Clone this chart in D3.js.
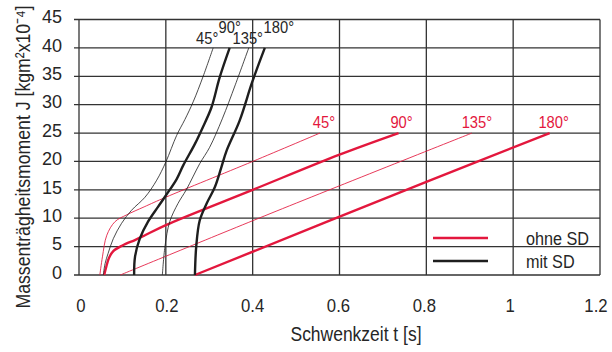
<!DOCTYPE html>
<html>
<head>
<meta charset="utf-8">
<script src="https://cdn.jsdelivr.net/npm/d3@7"></script>
<style>
  body { margin: 0; background: #fff; }
  svg text { font-family: 'Liberation Sans', Arial, sans-serif; fill: #262626; }
</style>
</head>
<body>
<svg id="chart" width="612" height="352"></svg>
<script>
// axis ticks
const xTicks = [0, 0.2, 0.4, 0.6, 0.8, 1, 1.2];
const yTicks = [0, 5, 10, 15, 20, 25, 30, 35, 40, 45];
const angleLabels = ["45°", "90°", "135°", "180°"];

// ohne SD (red) : [t in s, J in kgm²x10^-4]
const ohne45 = [[0.048, 0], [0.054, 3.2], [0.064, 7.0], [0.083, 9.4], [0.11, 10.6], [0.15, 12.0], [0.2, 13.7], [0.4, 20.0], [0.555, 25]];
const ohne90 = [[0.058, 0], [0.063, 1.5], [0.069, 3.0], [0.079, 4.2], [0.1, 5.2], [0.13, 6.2], [0.152, 7.0], [0.2, 8.8], [0.4, 15.0], [0.6, 21.2], [0.736, 25]];
const ohne135 = [[0.095, 0], [0.44, 10.8], [0.905, 25]];
const ohne180 = [[0.267, 0], [0.8, 16.4], [1.084, 25]];

// mit SD (black)
const mit45 = [[0.056, 0], [0.06, 2.0], [0.067, 3.8], [0.079, 6.4], [0.098, 9.1], [0.121, 11.4], [0.152, 13.7], [0.179, 16.7], [0.2, 19.9], [0.225, 24.6], [0.244, 27.4], [0.263, 30.5], [0.286, 35], [0.309, 40]];
const mit90 = [[0.127, 0], [0.129, 3.2], [0.14, 6.4], [0.159, 9.4], [0.182, 12.0], [0.2, 14.0], [0.225, 16.9], [0.24, 19.3], [0.267, 23.1], [0.285, 26.0], [0.305, 29.5], [0.324, 34.8], [0.347, 40]];
const mit135 = [[0.192, 0], [0.198, 5], [0.209, 9.4], [0.228, 12.6], [0.247, 15], [0.278, 19.6], [0.301, 22.5], [0.33, 27.5], [0.36, 33.5], [0.391, 40]];
const mit180 = [[0.267, 0], [0.27, 5], [0.278, 9.6], [0.294, 12.6], [0.313, 15.5], [0.328, 19], [0.34, 21.9], [0.37, 27.2], [0.399, 34], [0.428, 40]];

const svg = d3.select("#chart");
const plotLeft = 79, plotRight = 600, plotTop = 19.5, plotBottom = 275;

const x = d3.scaleLinear().domain([0, 1.2]).range([plotLeft, plotRight]);
const y = d3.scaleLinear().domain([0, 45]).range([plotBottom, plotTop]);
// the x tick labels sit a little tighter than the grid
const xLabel = d3.scaleLinear().domain([0, 1.2]).range([81, 596]);

const red = "#e3173d", black = "#1e1e1e";

// squeeze text horizontally, the original uses a narrow face
function narrow(sel, k) {
  sel.each(function () {
    const w = this.getComputedTextLength();
    d3.select(this).attr("textLength", w * k).attr("lengthAdjust", "spacingAndGlyphs");
  });
}

// grid
svg.append("g").selectAll("line").data(xTicks).enter().append("line")
  .attr("x1", d => x(d)).attr("x2", d => x(d))
  .attr("y1", plotTop).attr("y2", plotBottom)
  .attr("stroke", "#333").attr("stroke-width", 1.3);

svg.append("g").selectAll("line").data(yTicks).enter().append("line")
  .attr("x1", plotLeft - 5).attr("x2", plotRight)
  .attr("y1", d => y(d)).attr("y2", d => y(d))
  .attr("stroke", "#333").attr("stroke-width", 1.3);

// tick labels
svg.append("g").selectAll("text").data(yTicks).enter().append("text")
  .attr("x", 62).attr("y", d => y(d)).attr("dy", "0.2em")
  .attr("text-anchor", "end").style("font-size", "19px")
  .text(d => d)
  .call(narrow, 0.95);

svg.append("g").selectAll("text").data(xTicks).enter().append("text")
  .attr("x", d => xLabel(d)).attr("y", 312)
  .attr("text-anchor", "middle").style("font-size", "19px")
  .text(d => d)
  .call(narrow, 0.88);

// axis titles
svg.append("text")
  .attr("x", 356).attr("y", 341)
  .attr("text-anchor", "middle").style("font-size", "20px")
  .attr("textLength", 131).attr("lengthAdjust", "spacingAndGlyphs")
  .text("Schwenkzeit t [s]");

svg.append("text")
  .attr("transform", "translate(30,157) rotate(-90)")
  .attr("text-anchor", "middle").style("font-size", "21px")
  .attr("textLength", 303).attr("lengthAdjust", "spacingAndGlyphs")
  .text("Massenträgheitsmoment J [kgm²x10⁻⁴]");

// curves
const line = d3.line()
  .x(d => x(d[0]))
  .y(d => y(d[1]))
  .curve(d3.curveCatmullRom.alpha(0.5));

const series = [
  { data: ohne45, color: red, w: 1, op: 0.85 },
  { data: ohne90, color: red, w: 2.4, op: 1 },
  { data: ohne135, color: red, w: 1, op: 0.85 },
  { data: ohne180, color: red, w: 2.4, op: 1 },
  { data: mit45, color: black, w: 1, op: 0.8 },
  { data: mit90, color: black, w: 2.4, op: 1 },
  { data: mit135, color: black, w: 1, op: 0.8 },
  { data: mit180, color: black, w: 2.4, op: 1 }
];

svg.append("g").selectAll("path").data(series).enter().append("path")
  .attr("d", d => line(d.data))
  .attr("fill", "none")
  .attr("stroke", d => d.color)
  .attr("stroke-opacity", d => d.op)
  .attr("stroke-width", d => d.w);

// angle labels at curve ends
const redEnds = [ohne45, ohne90, ohne135, ohne180].map(s => s[s.length - 1]);
svg.append("g").selectAll("text").data(redEnds).enter().append("text")
  .attr("x", (d, i) => x(d[0]) + [4, 3, 5, 4][i])
  .attr("y", d => y(d[1]) - 5)
  .attr("text-anchor", "middle").style("font-size", "16px")
  .style("fill", red)
  .text((d, i) => angleLabels[i])
  .call(narrow, 0.92);

const blackEnds = [mit45, mit90, mit135, mit180].map(s => s[s.length - 1]);
svg.append("g").selectAll("text").data(blackEnds).enter().append("text")
  .attr("x", (d, i) => x(d[0]) + [-6, 0, -1, 14][i])
  .attr("y", (d, i) => y(d[1]) - [4, 15, 4, 15][i])
  .attr("text-anchor", "middle").style("font-size", "16px")
  .text((d, i) => angleLabels[i])
  .call(narrow, 0.92);

// legend
const legend = [{ label: "ohne SD", color: red }, { label: "mit SD", color: black }];
const lg = svg.append("g").selectAll("g").data(legend).enter().append("g")
  .attr("transform", (d, i) => "translate(0," + (238 + i * 23) + ")");
lg.append("line")
  .attr("x1", 433).attr("x2", 488)
  .attr("stroke", d => d.color).attr("stroke-width", 2.4);
lg.append("text")
  .attr("x", 526).attr("y", 7)
  .style("font-size", "18px")
  .text(d => d.label)
  .call(narrow, 0.9);
</script>
</body>
</html>
